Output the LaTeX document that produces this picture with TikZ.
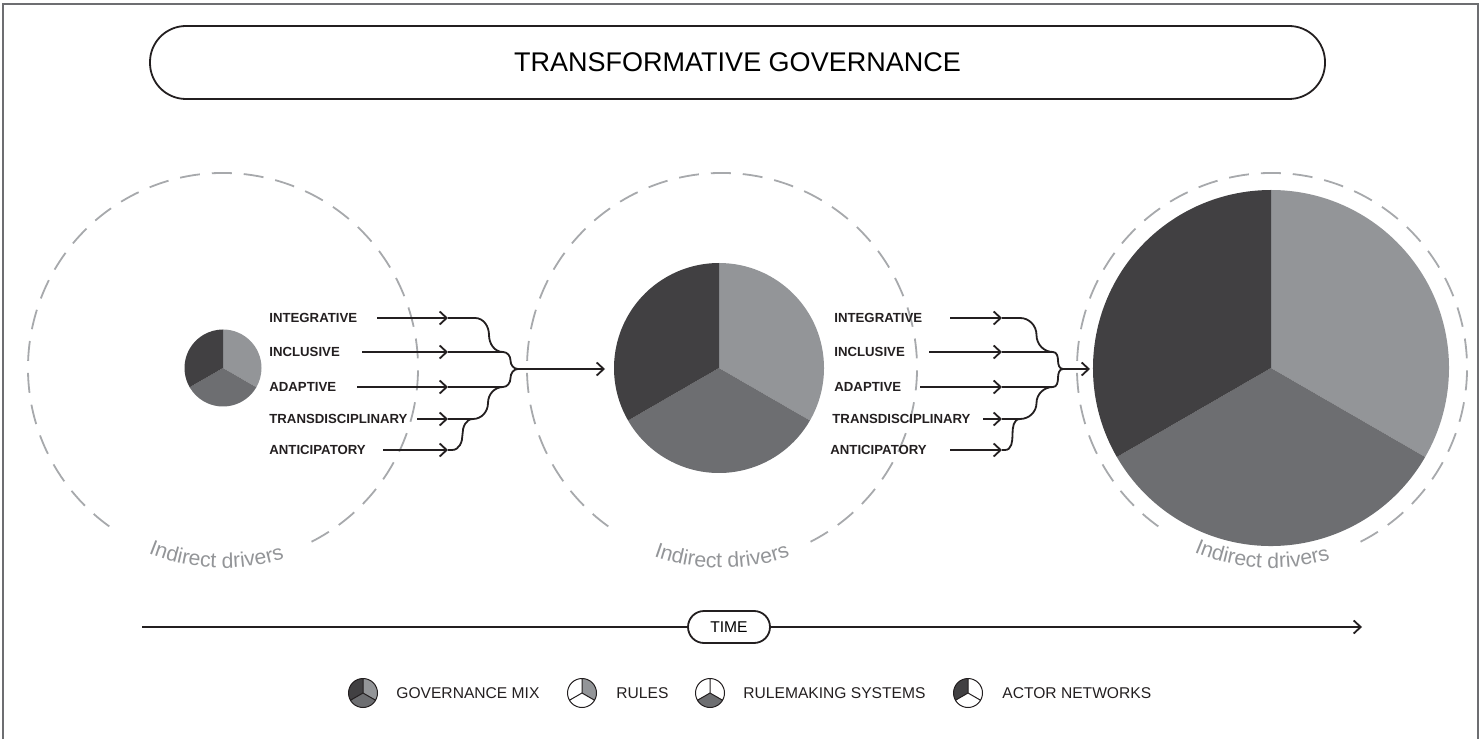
\documentclass[tikz,border=0pt]{standalone}
\usepackage{fontspec}
\setmainfont{Liberation Sans}
\usetikzlibrary{arrows.meta,decorations.text}

\definecolor{pielight}{HTML}{939598}
\definecolor{piemid}{HTML}{6D6E71}
\definecolor{piedark}{HTML}{414042}
\definecolor{ringgray}{HTML}{A7A9AC}
\definecolor{framegray}{HTML}{6D6E71}
\definecolor{inkblack}{HTML}{231F20}

\tikzset{
  flow/.style={inkblack,line width=0.9pt},
  tip/.style={-{Straight Barb[length=3.5pt,width=6.5pt]}},
  ring/.style={ringgray,line width=0.9pt,dash pattern=on 10pt off 6pt},
  pill/.style={draw=inkblack,line width=0.9pt,fill=white,inner sep=0pt},
  lbl/.style={anchor=west,inner sep=0pt,text=inkblack,font=\fontsize{6.6}{8}\bfseries\selectfont},
  leg/.style={anchor=west,inner sep=0pt,text=inkblack,font=\fontsize{7.8}{9}\selectfont},
  keyline/.style={inkblack,line width=0.5pt}
}

\begin{document}
\begin{tikzpicture}[x=0.5pt,y=0.5pt]
\useasboundingbox (0,0) rectangle (1481,739);
\draw[framegray,line width=0.8pt] (3,0) -- (3,735) -- (1478,735) -- (1478,0);

\node[pill,minimum width=587.5pt,minimum height=36.5pt,rounded corners=18pt,font=\fontsize{13.5}{16}\selectfont] (title) at (737.5,676.5) {TRANSFORMATIVE GOVERNANCE};

\coordinate (ring1) at (223,371);
\coordinate (ring2) at (722,371);
\coordinate (ring3) at (1272,371);
\draw[ring] (ring1) ++(-63:195) arc[start angle=-63,end angle=235,radius=195];
\draw[ring] (ring2) ++(-63:195) arc[start angle=-63,end angle=235,radius=195];
\draw[ring] (ring3) ++(-63:195) arc[start angle=-63,end angle=235,radius=195];
\path[decorate,decoration={text along path,text align=center,text color=pielight,text={|\fontsize{10.6}{12}\selectfont|Indirect drivers}}] (ring1) ++(228:200) arc[start angle=228,end angle=308,radius=200];
\path[decorate,decoration={text along path,text align=center,text color=pielight,text={|\fontsize{10.6}{12}\selectfont|Indirect drivers}}] (ring2) ++(230:200) arc[start angle=230,end angle=310,radius=200];
\path[decorate,decoration={text along path,text align=center,text color=pielight,text={|\fontsize{10.6}{12}\selectfont|Indirect drivers}}] (ring3) ++(227:200) arc[start angle=227,end angle=307,radius=200];

\coordinate (pie1) at (223,371);
\coordinate (pie2) at (719,371);
\coordinate (pie3) at (1271,371);
\fill[pielight] (pie1) -- ++(90:38.5) arc[start angle=90,end angle=-30,radius=38.5] -- cycle;
\fill[piemid] (pie1) -- ++(-30:38.5) arc[start angle=-30,end angle=-150,radius=38.5] -- cycle;
\fill[piedark] (pie1) -- ++(210:38.5) arc[start angle=210,end angle=90,radius=38.5] -- cycle;
\fill[pielight] (pie2) -- ++(90:105) arc[start angle=90,end angle=-30,radius=105] -- cycle;
\fill[piemid] (pie2) -- ++(-30:105) arc[start angle=-30,end angle=-150,radius=105] -- cycle;
\fill[piedark] (pie2) -- ++(210:105) arc[start angle=210,end angle=90,radius=105] -- cycle;
\fill[pielight] (pie3) -- ++(90:178) arc[start angle=90,end angle=-30,radius=178] -- cycle;
\fill[piemid] (pie3) -- ++(-30:178) arc[start angle=-30,end angle=-150,radius=178] -- cycle;
\fill[piedark] (pie3) -- ++(210:178) arc[start angle=210,end angle=90,radius=178] -- cycle;

\node[lbl] (int1) at (269,421) {INTEGRATIVE};
\node[lbl] (inc1) at (269,387) {INCLUSIVE};
\node[lbl] (ada1) at (269,352) {ADAPTIVE};
\node[lbl] (tra1) at (269,320) {TRANSDISCIPLINARY};
\node[lbl] (ant1) at (269,289) {ANTICIPATORY};
\node[lbl] (int2) at (834,421) {INTEGRATIVE};
\node[lbl] (inc2) at (834,387) {INCLUSIVE};
\node[lbl] (ada2) at (834,352) {ADAPTIVE};
\node[lbl] (tra2) at (832,320) {TRANSDISCIPLINARY};
\node[lbl] (ant2) at (830,289) {ANTICIPATORY};

\coordinate (int1s) at (377,421); \coordinate (int1h) at (448,421);
\coordinate (inc1s) at (362,387); \coordinate (inc1h) at (448,387);
\coordinate (ada1s) at (357,352); \coordinate (ada1h) at (448,352);
\coordinate (tra1s) at (417,320); \coordinate (tra1h) at (448,320);
\coordinate (ant1s) at (383,289); \coordinate (ant1h) at (448,289);
\coordinate (jtop1) at (503,387);
\coordinate (jbot1) at (503,352);
\coordinate (jlow1) at (473,320);
\coordinate (tip1) at (518,370);
\coordinate (out1) at (605,370);

\draw[flow,tip] (int1s) -- (int1h);
\draw[flow,tip] (inc1s) -- (inc1h);
\draw[flow,tip] (ada1s) -- (ada1h);
\draw[flow,tip] (tra1s) -- (tra1h);
\draw[flow,tip] (ant1s) -- (ant1h);
\draw[flow] (int1h) -- ++(27,0) to[out=0,in=90] ++(14,-17) to[out=-90,in=180] (jtop1);
\draw[flow] (inc1h) -- (jtop1) to[out=0,in=90] ++(7.5,-8.5) to[out=-90,in=180] (tip1);
\draw[flow] (ada1h) -- (jbot1) to[out=0,in=-90] ++(7.5,9) to[out=90,in=180] (tip1);
\draw[flow] (tra1h) -- (jlow1) to[out=0,in=-90] ++(15,16) to[out=90,in=180] (jbot1);
\draw[flow] (ant1h) -- ++(4,0) to[out=0,in=-90] ++(10.5,15.5) to[out=90,in=180] (jlow1);
\draw[flow,tip] (tip1) -- (out1);

\coordinate (int2s) at (950,421); \coordinate (int2h) at (1002,421);
\coordinate (inc2s) at (929,387); \coordinate (inc2h) at (1002,387);
\coordinate (ada2s) at (920,352); \coordinate (ada2h) at (1002,352);
\coordinate (tra2s) at (983,320); \coordinate (tra2h) at (1002,320);
\coordinate (ant2s) at (950,289); \coordinate (ant2h) at (1002,289);
\coordinate (jtop2) at (1053,387);
\coordinate (jbot2) at (1053,352);
\coordinate (jlow2) at (1020,320);
\coordinate (tip2) at (1063,370);
\coordinate (out2) at (1090,370);

\draw[flow,tip] (int2s) -- (int2h);
\draw[flow,tip] (inc2s) -- (inc2h);
\draw[flow,tip] (ada2s) -- (ada2h);
\draw[flow,tip] (tra2s) -- (tra2h);
\draw[flow,tip] (ant2s) -- (ant2h);
\draw[flow] (int2h) -- ++(18,0) to[out=0,in=90] ++(16.5,-17) to[out=-90,in=180] (jtop2);
\draw[flow] (inc2h) -- (jtop2) to[out=0,in=90] ++(5,-8.5) to[out=-90,in=180] (tip2);
\draw[flow] (ada2h) -- (jbot2) to[out=0,in=-90] ++(5,9) to[out=90,in=180] (tip2);
\draw[flow] (tra2h) -- (jlow2) to[out=0,in=-90] ++(16.5,16) to[out=90,in=180] (jbot2);
\draw[flow] (ant2h) -- ++(3,0) to[out=0,in=-90] ++(7.5,15.5) to[out=90,in=180] (jlow2);
\draw[flow,tip] (tip2) -- (out2);

\coordinate (axisL) at (142,112);
\coordinate (axisR) at (1362,112);
\draw[flow,tip] (axisL) -- (axisR);
\node[pill,minimum width=41pt,minimum height=16pt,rounded corners=8pt,font=\fontsize{7.8}{9}\selectfont] (time) at (729,112) {TIME};

\coordinate (key1) at (363,46);
\coordinate (key2) at (582,46);
\coordinate (key3) at (710,46);
\coordinate (key4) at (968,46);
\fill[pielight] (key1) -- ++(90:14.5) arc[start angle=90,end angle=-30,radius=14.5] -- cycle;
\fill[piemid] (key1) -- ++(-30:14.5) arc[start angle=-30,end angle=-150,radius=14.5] -- cycle;
\fill[piedark] (key1) -- ++(210:14.5) arc[start angle=210,end angle=90,radius=14.5] -- cycle;
\fill[pielight] (key2) -- ++(90:14.5) arc[start angle=90,end angle=-30,radius=14.5] -- cycle;
\fill[piemid] (key3) -- ++(-30:14.5) arc[start angle=-30,end angle=-150,radius=14.5] -- cycle;
\fill[piedark] (key4) -- ++(210:14.5) arc[start angle=210,end angle=90,radius=14.5] -- cycle;
\draw[keyline] (key1) circle[radius=14.5] (key1) -- ++(90:14.5) (key1) -- ++(-30:14.5) (key1) -- ++(210:14.5);
\draw[keyline] (key2) circle[radius=14.5] (key2) -- ++(90:14.5) (key2) -- ++(-30:14.5) (key2) -- ++(210:14.5);
\draw[keyline] (key3) circle[radius=14.5] (key3) -- ++(90:14.5) (key3) -- ++(-30:14.5) (key3) -- ++(210:14.5);
\draw[keyline] (key4) circle[radius=14.5] (key4) -- ++(90:14.5) (key4) -- ++(-30:14.5) (key4) -- ++(210:14.5);
\node[leg] (mixL) at (396,46) {GOVERNANCE MIX};
\node[leg] (rulL) at (616,46) {RULES};
\node[leg] (sysL) at (743,46) {RULEMAKING SYSTEMS};
\node[leg] (actL) at (1002,46) {ACTOR NETWORKS};
\end{tikzpicture}
\end{document}
